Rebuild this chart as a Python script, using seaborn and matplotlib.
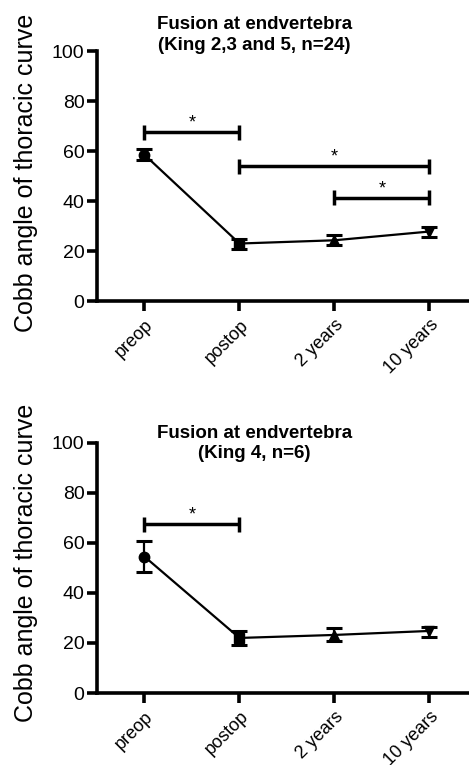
import matplotlib
matplotlib.use("Agg")
import matplotlib.pyplot as plt
import seaborn as sns
import pandas as pd

sns.set_theme(style="ticks")
plt.rcParams['font.family'] = ['Liberation Sans', 'DejaVu Sans']
plt.rcParams['text.color'] = 'black'
plt.rcParams['xtick.color'] = 'black'
plt.rcParams['ytick.color'] = 'black'
plt.rcParams['axes.labelcolor'] = 'black'

categories = ["preop", "postop", "2 years", "10 years"]
markers = ["o", "s", "^", "v"]

top_title = "Fusion at endvertebra\n(King 2,3 and 5, n=24)"
top_means = [58.5, 23.0, 24.3, 27.8]
top_lower = [56.5, 21.0, 22.3, 25.8]
top_upper = [61.0, 25.0, 26.5, 29.8]
top_brackets = [(0, 1, 67.5), (1, 3, 54.0), (2, 3, 41.3)]

bot_title = "Fusion at endvertebra\n(King 4, n=6)"
bot_means = [54.5, 22.0, 23.2, 24.8]
bot_lower = [48.2, 19.2, 20.8, 22.5]
bot_upper = [60.8, 24.8, 26.0, 26.3]
bot_brackets = [(0, 1, 67.5)]

yticks = [0, 20, 40, 60, 80, 100]

fig = plt.figure(figsize=(4.69, 7.65), dpi=100)
ax_top = fig.add_axes([0.2068, 0.6065, 0.80, 0.3268])
ax_bot = fig.add_axes([0.2068, 0.0941, 0.80, 0.3272])


def draw(ax, title, means, lower, upper, brackets, title_y):
    df = pd.DataFrame({"pos": range(len(categories)), "val": means})
    sns.lineplot(data=df, x="pos", y="val", ax=ax, color="black", lw=1.6, zorder=2)
    for i, (m, lo, hi, mk) in enumerate(zip(means, lower, upper, markers)):
        ax.errorbar([i], [m], yerr=[[m - lo], [hi - m]], fmt=mk, color="black",
                    ms=7.5, capsize=6, capthick=2.2, elinewidth=1.6, zorder=3)
    for a, b, y in brackets:
        ax.plot([a, b], [y, y], color="black", lw=2.5, solid_capstyle="butt")
        ax.plot([a, a], [y - 3, y + 3], color="black", lw=2.5, solid_capstyle="butt")
        ax.plot([b, b], [y - 3, y + 3], color="black", lw=2.5, solid_capstyle="butt")
        ax.text((a + b) / 2, y + 0.3, "*", ha="center", va="bottom", fontsize=13)
    ax.set_xlim(-0.5, 3.45)
    ax.set_ylim(0, 100)
    ax.set_xticks(range(len(categories)))
    ax.set_xticklabels(categories, rotation=45, ha="right", rotation_mode="anchor", fontsize=13)
    ax.set_yticks(yticks)
    ax.set_yticklabels([str(t) for t in yticks], fontsize=14)
    ax.set_xlabel("")
    ax.set_ylabel("")
    for s in ["top", "right"]:
        ax.spines[s].set_visible(False)
    for s in ["left", "bottom"]:
        ax.spines[s].set_linewidth(2.6)
        ax.spines[s].set_color("black")
    ax.tick_params(axis="both", width=2.6, length=7, color="black", direction="out", pad=2)
    ax.tick_params(axis="x", pad=4)
    fig.text(0.543, title_y, title, ha="center", va="top", fontsize=13.5,
             fontweight="bold", linespacing=1.3)


draw(ax_top, top_title, top_means, top_lower, top_upper, top_brackets, 0.979)
draw(ax_bot, bot_title, bot_means, bot_lower, bot_upper, bot_brackets, 0.445)

fig.text(0.055, 0.774, "Cobb angle of thoracic curve", rotation=90, ha="center",
         va="center", fontsize=18)
fig.text(0.055, 0.264, "Cobb angle of thoracic curve", rotation=90, ha="center",
         va="center", fontsize=18)

fig.savefig("out.png", dpi=100)
